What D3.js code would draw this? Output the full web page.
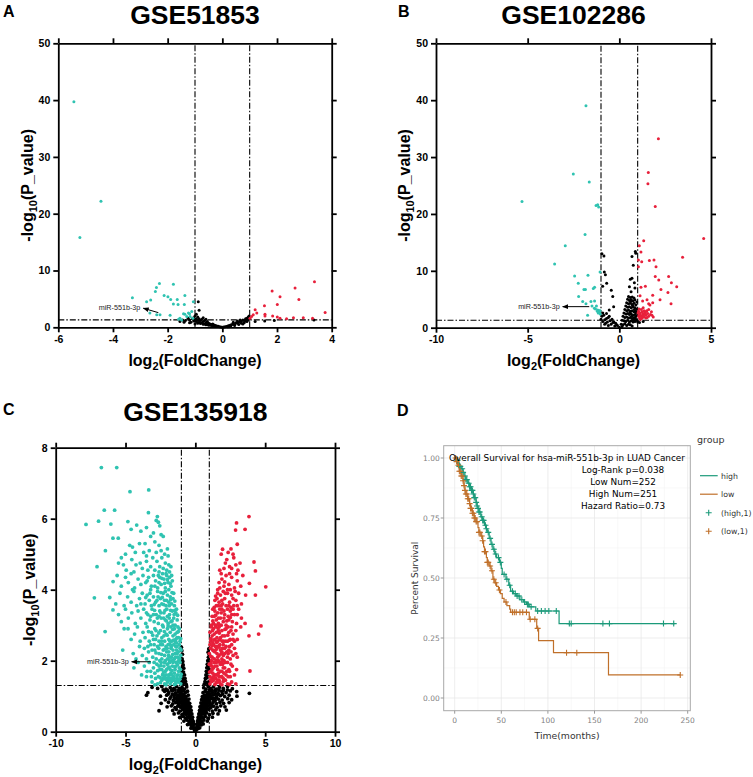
<!DOCTYPE html>
<html><head><meta charset="utf-8">
<script src="https://cdn.jsdelivr.net/npm/d3@7"></script>
<style>body{margin:0;background:#fff}</style>
</head><body>
<svg id="fig" width="753" height="777"></svg>
<script>
// ---------------- DATA ----------------
const titles = ["GSE51853", "GSE102286", "GSE135918"];
const panelLetters = ["A", "B", "C", "D"];
const xTicksA = [-6, -4, -2, 0, 2, 4];
const xTicksB = [-10, -5, 0, 5];
const xTicksC = [-10, -5, 0, 5, 10];
const yTicksAB = [0, 10, 20, 30, 40, 50];
const yTicksC = [0, 2, 4, 6, 8];
const fcCut = 1, pCut = 1.3;
const mirLabel = "miR-551b-3p";

// Panel A (GSE51853): [log2FC, -log10 p]
const aDown = [[-5.43,39.7],[-4.44,22.2],[-5.21,15.8],[-3.29,5.2],[-2.77,4.5],[-2.62,4.8],[-2.45,6.3],[-2.41,7.0],[-2.3,7.7],[-2.65,2.5],[-2.4,2.2],[-2.28,2.2],[-2.13,5.6],[-1.99,5.4],[-1.89,4.9],[-1.79,7.6],[-1.79,4.1],[-1.65,4.9],[-1.62,4.0],[-1.91,2.1],[-1.37,5.6],[-1.39,4.0],[-1.55,1.6],[-1.49,1.3],[-1.37,2.3],[-1.24,2.5],[-1.12,2.8],[-1.06,4.5],[-1.18,1.9],[-1.3,1.9],[-1.42,2.4],[-1.08,1.6],[-1.2,2.4],[-1.6,1.4]];
const aUp = [[3.37,8.0],[2.66,6.9],[1.82,6.4],[2.11,5.4],[2.8,4.9],[2.01,4.0],[1.54,3.8],[1.2,3.1],[1.26,2.5],[1.13,2.2],[1.56,2.3],[1.56,2.0],[1.84,2.0],[2.01,1.8],[2.11,1.6],[2.35,1.5],[2.6,1.7],[2.96,1.7],[3.3,1.6],[3.76,2.6],[1.01,1.6],[1.07,1.9]];
const aNs = [[-0.88,4.5],[-0.85,3.0],[-1.55,1.0],[-1.35,1.2],[-1.2,1.3],[-1.1,1.5],[-1.0,2.0],[-0.95,2.3],[-0.9,1.8],[-0.85,1.5],[-0.8,1.2],[-0.75,1.4],[-0.7,1.0],[-0.65,1.2],[-0.6,0.8],[-0.55,1.0],[-0.5,0.7],[-0.45,0.6],[-0.4,0.5],[-0.35,0.6],[-0.3,0.4],[-0.25,0.3],[-0.2,0.25],[-0.15,0.2],[-0.1,0.1],[-0.05,0.05],[0,0.02],[0.05,0.05],[0.1,0.1],[0.15,0.15],[0.2,0.25],[0.25,0.3],[0.3,0.4],[0.35,0.5],[0.4,0.6],[0.45,0.5],[0.5,0.8],[0.55,0.7],[0.6,0.9],[0.65,1.0],[0.7,1.1],[0.75,1.3],[0.8,1.2],[0.85,1.5],[0.9,1.6],[0.95,1.8],[0.98,2.0],[-1.15,0.9],[-1.05,1.1],[-0.95,1.0],[-0.85,0.9],[-0.75,0.8],[-0.65,0.6],[-0.55,0.5],[-0.45,0.4],[-0.35,0.3],[-0.9,0.7],[-1.0,0.6],[-1.2,0.8],[-1.4,0.9],[0.45,0.3],[0.6,0.5],[0.7,0.7],[0.8,0.8],[0.9,1.0],[0.55,1.1],[0.65,1.3],[0.75,0.6],[0.85,1.1],[0.95,1.3],[0.4,0.9],[0.3,0.2],[0.2,0.1],[-0.2,0.15],[-0.3,0.2],[-0.4,0.3],[-0.5,0.35],[-0.6,0.45],[-0.7,0.55],[-0.8,0.65],[-0.95,1.5],[-1.0,1.3],[-0.9,1.25],[-1.05,1.7],[1.2,1.0],[1.55,1.1],[1.9,1.2],[3.35,1.3],[1.0,1.5],[-1.25,1.6],[-1.45,1.3],[-0.7,1.7],[-0.6,1.4]];
const aArrow = [[-2.34,2.58],[-2.89,3.35]];

// Panel B (GSE102286)
const bDown = [[-1.82,39.0],[-2.51,27.0],[-1.64,25.6],[-5.31,22.2],[-1.27,21.5],[-1.18,21.6],[-1.13,21.2],[-1.87,16.4],[-2.95,14.4],[-3.53,11.2],[-2.44,9.1],[-1.71,9.2],[-1.05,9.8],[-2.24,7.8],[-1.93,6.7],[-1.85,6.7],[-1.42,6.9],[-1.35,7.1],[-2.22,5.5],[-2.0,4.6],[-1.82,4.2],[-1.55,4.6],[-1.35,4.7],[-1.49,3.8],[-1.36,3.4],[-1.18,3.1],[-1.09,3.0],[-1.73,2.2],[-1.1,2.7],[-1.2,2.9],[-1.3,3.3],[-1.05,3.0],[-1.15,2.6],[-1.25,3.8],[-1.04,2.4]];
const bUp = [[2.13,33.2],[1.58,27.3],[1.56,25.3],[1.96,21.3],[4.6,15.7],[1.33,15.3],[1.09,14.4],[1.18,13.3],[3.45,12.4],[1.04,11.9],[1.22,11.6],[1.64,11.8],[1.89,11.9],[2.0,10.7],[1.04,10.7],[2.69,9.0],[1.96,9.0],[2.15,8.4],[2.84,7.9],[1.42,7.3],[3.13,7.2],[2.27,6.7],[1.18,7.1],[1.13,5.6],[2.65,6.2],[1.82,5.7],[1.51,4.9],[1.27,4.7],[2.22,4.9],[1.6,4.2],[1.67,4.0],[2.82,4.2],[1.82,4.4],[1.78,2.2],[1.05,2.0],[1.1,2.3],[1.15,2.6],[1.2,2.1],[1.25,2.8],[1.3,2.4],[1.35,1.9],[1.4,2.7],[1.45,2.2],[1.5,3.0],[1.55,2.5],[1.6,2.0],[1.05,2.9],[1.1,1.7],[1.2,3.2],[1.3,3.5],[1.15,1.5],[1.25,1.8],[1.35,3.0],[1.45,1.7],[1.02,2.6],[1.08,3.3],[1.18,2.0],[1.28,2.2],[1.38,2.5],[1.48,2.9],[1.6,3.2],[1.7,2.3],[1.75,2.8],[1.85,1.9],[1.12,2.4],[1.22,1.6],[1.32,2.0],[1.42,2.4],[1.52,1.8]];
const bNs = [[-0.95,13.0],[-0.84,12.6],[-0.82,9.8],[-0.76,9.3],[-0.91,7.3],[-0.69,7.8],[-0.44,6.6],[-0.36,5.5],[-0.31,3.7],[-0.55,3.1],[-0.7,2.5],[-0.85,2.2],[-0.95,2.0],[-0.6,1.8],[-0.4,1.5],[-0.3,1.0],[-0.2,0.8],[-0.1,0.4],[0,0.1],[-0.5,1.2],[-0.65,1.0],[-0.8,1.4],[-0.9,1.1],[-0.75,0.8],[-0.45,0.6],[-0.25,0.3],[-0.15,0.5],[-0.35,0.9],[-1.0,1.5],[-0.7,1.6],[-0.55,2.0],[-0.9,2.6],[-0.6,0.4],[-0.8,0.6],[0.87,13.4],[0.9,13.1],[0.69,12.5],[0.76,11.0],[0.69,8.7],[0.6,8.5],[0.82,7.9],[0.55,7.2],[0.85,7.0],[0.64,6.3],[0.5,5.5],[0.6,5.3],[0.7,5.4],[0.8,5.2],[0.45,5.0],[0.55,4.8],[0.65,4.9],[0.75,4.7],[0.85,4.9],[0.95,4.5],[0.4,4.4],[0.5,4.2],[0.6,4.3],[0.7,4.1],[0.8,4.3],[0.9,4.0],[0.35,3.8],[0.45,3.6],[0.55,3.7],[0.65,3.5],[0.75,3.7],[0.85,3.5],[0.95,3.3],[0.3,3.2],[0.4,3.0],[0.5,3.1],[0.6,2.9],[0.7,3.0],[0.8,2.8],[0.9,2.9],[0.25,2.6],[0.35,2.4],[0.45,2.5],[0.55,2.3],[0.65,2.4],[0.75,2.2],[0.85,2.3],[0.95,2.1],[0.2,2.0],[0.3,1.8],[0.4,1.9],[0.5,1.7],[0.6,1.8],[0.7,1.6],[0.8,1.7],[0.9,1.5],[0.15,1.3],[0.25,1.2],[0.35,1.1],[0.45,1.3],[0.55,1.0],[0.65,1.2],[0.75,1.0],[0.85,1.1],[0.1,0.6],[0.2,0.5],[0.3,0.7],[0.4,0.4],[0.5,0.6],[0.6,0.5],[1.0,1.0],[1.1,0.9],[1.3,1.1],[0.98,1.25],[0.7,0.3],[0.15,0.2],[0.62,4.6],[0.72,3.9],[0.82,3.2],[0.92,2.6],[0.58,2.7],[0.68,2.0],[0.78,1.4],[0.88,1.9]];
const bArrow = [[-1.64,3.7],[-3.09,3.7]];

// Panel C (GSE135918)
const cDown = [[-6.73,7.44],[-5.63,7.44],[-4.68,6.76],[-3.34,6.81],[-6.52,6.24],[-5.78,6.24],[-3.36,6.17],[-2.72,6.06],[-2.8,5.95],
[-7.83,5.84],[-6.93,5.93],[-6.05,5.85],[-4.83,5.92],[-4.2,5.82],[-3.5,5.75],[-2.65,5.9],[-2.55,5.8],[-3.0,5.6],[-3.9,5.65],[-2.45,5.55],[-3.2,5.5],[-5.52,5.45],[-4.6,5.7],[-2.3,5.5],
[-6.44,5.1],[-5.9,5.45],[-4.7,5.25],[-4.5,5.2],[-4.0,5.3],[-3.6,5.3],[-3.7,5.05],[-3.3,5.1],[-2.9,5.35],[-2.6,5.25],[-2.45,5.1],[-2.2,5.0],[-2.0,5.15],[-1.95,4.95],[-2.8,5.05],[-3.5,4.95],[-4.3,5.05],[-5.0,5.0],[-5.3,4.9],
[-7.04,4.65],[-5.5,4.75],[-5.15,4.7],[-4.95,4.55],[-4.55,4.85],[-4.25,4.7],[-3.95,4.75],[-3.8,4.6],[-3.5,4.8],[-3.2,4.65],[-3.05,4.9],[-2.9,4.55],[-2.75,4.8],[-2.55,4.65],[-2.4,4.9],[-2.3,4.6],[-2.15,4.75],[-2.05,4.55],[-1.9,4.7],[-1.75,4.65],[-1.85,4.5],[-2.6,4.5],[-3.4,4.55],[-4.4,4.5],
[-5.89,4.23],[-5.6,4.4],[-5.3,4.1],[-5.0,4.35],[-4.8,4.2],[-4.6,4.45],[-4.35,4.05],[-4.1,4.3],[-3.9,4.15],[-3.75,4.4],[-3.55,4.2],[-3.35,4.35],[-3.15,4.1],[-3.0,4.4],[-2.85,4.25],[-2.7,4.05],[-2.55,4.35],[-2.45,4.15],[-2.35,4.45],[-2.25,4.3],[-2.15,4.05],[-2.05,4.4],[-1.95,4.2],[-1.85,4.35],[-1.75,4.1],[-1.65,4.25],[-1.9,4.0],[-2.6,4.2],[-3.2,4.0],[-4.5,4.0],
[-7.23,3.77],[-6.13,3.78],[-5.7,3.6],[-5.4,3.9],[-5.1,3.55],[-4.85,3.8],[-4.6,3.65],[-4.4,3.95],[-4.2,3.55],[-4.0,3.75],[-3.8,3.9],[-3.6,3.6],[-3.45,3.85],[-3.3,3.7],[-3.15,3.55],[-3.0,3.8],[-2.85,3.65],[-2.7,3.95],[-2.6,3.55],[-2.5,3.75],[-2.4,3.6],[-2.3,3.9],[-2.2,3.7],[-2.1,3.55],[-2.0,3.85],[-1.9,3.65],[-1.8,3.8],[-1.7,3.6],[-1.6,3.75],[-1.5,3.55],[-1.55,3.9],[-2.15,3.95],[-2.75,3.7],[-3.9,3.6],
[-5.9,3.43],[-5.5,3.3],[-5.3,3.1],[-5.0,3.45],[-4.8,3.2],[-4.55,3.35],[-4.3,3.05],[-4.1,3.4],[-3.9,3.2],[-3.7,3.45],[-3.55,3.05],[-3.4,3.3],[-3.25,3.15],[-3.1,3.45],[-2.95,3.1],[-2.8,3.3],[-2.65,3.05],[-2.55,3.4],[-2.45,3.2],[-2.35,3.0],[-2.25,3.35],[-2.15,3.15],[-2.05,3.45],[-1.95,3.05],[-1.85,3.3],[-1.75,3.1],[-1.65,3.4],[-1.55,3.2],[-1.45,3.0],[-1.4,3.35],[-1.3,3.15],[-1.35,3.45],[-1.6,3.0],[-2.0,3.25],[-2.6,3.25],[-3.0,3.3],
[-6.46,2.82],[-5.1,2.9],[-4.82,2.9],[-4.6,2.6],[-4.35,2.75],[-4.15,2.95],[-3.95,2.55],[-3.75,2.8],[-3.6,2.65],[-3.45,2.95],[-3.3,2.55],[-3.15,2.8],[-3.0,2.6],[-2.9,2.9],[-2.75,2.7],[-2.6,2.55],[-2.5,2.85],[-2.4,2.65],[-2.3,2.95],[-2.2,2.55],[-2.1,2.75],[-2.0,2.9],[-1.9,2.6],[-1.8,2.8],[-1.7,2.55],[-1.6,2.7],[-1.5,2.9],[-1.4,2.6],[-1.3,2.8],[-1.2,2.65],[-1.1,2.55],[-1.15,2.9],[-1.25,2.95],[-1.35,2.5],[-1.45,2.75],[-1.75,2.95],[-2.25,2.7],[-2.85,2.6],
[-5.2,2.3],[-4.45,2.2],[-4.25,2.05],[-4.0,2.4],[-3.8,2.15],[-3.65,2.35],[-3.5,2.05],[-3.35,2.25],[-3.2,2.45],[-3.05,2.1],[-2.9,2.3],[-2.8,2.05],[-2.7,2.4],[-2.6,2.2],[-2.5,2.45],[-2.4,2.05],[-2.3,2.3],[-2.2,2.15],[-2.1,2.4],[-2.0,2.05],[-1.9,2.25],[-1.8,2.45],[-1.7,2.1],[-1.6,2.3],[-1.5,2.05],[-1.4,2.4],[-1.3,2.2],[-1.2,2.0],[-1.1,2.35],[-1.05,2.15],[-1.15,2.45],[-1.25,2.1],[-1.35,2.3],[-1.45,2.2],[-1.55,2.45],[-1.65,2.0],[-1.75,2.35],[-1.85,2.0],[-1.95,2.45],[-2.05,2.25],[-2.15,2.0],[-2.35,2.45],[-2.55,2.0],[-2.95,2.45],[-3.4,2.4],
[-4.4,1.8],[-4.1,1.95],[-3.85,1.6],[-3.65,1.85],[-3.45,1.7],[-3.3,1.95],[-3.15,1.55],[-3.0,1.8],[-2.9,1.65],[-2.75,1.9],[-2.65,1.55],[-2.55,1.75],[-2.45,1.95],[-2.35,1.6],[-2.25,1.85],[-2.15,1.7],[-2.05,1.5],[-1.95,1.8],[-1.85,1.95],[-1.75,1.65],[-1.65,1.85],[-1.55,1.55],[-1.45,1.75],[-1.35,1.95],[-1.25,1.6],[-1.15,1.8],[-1.05,1.55],[-1.1,1.95],[-1.2,1.7],[-1.3,1.5],[-1.4,1.85],[-1.5,1.65],[-1.6,1.95],[-1.7,1.5],[-1.8,1.75],[-1.9,1.6],[-2.0,1.9],[-2.1,1.6],[-2.2,1.95],[-2.3,1.5],[-2.4,1.75],[-2.6,1.85],[-2.85,1.5],[-3.5,1.55],
[-3.1,1.4],[-2.7,1.35],[-2.4,1.45],[-2.2,1.35],[-2.0,1.4],[-1.8,1.35],[-1.6,1.45],[-1.4,1.35],[-1.2,1.4],[-1.05,1.35],[-1.3,1.45],[-1.5,1.33],[-1.7,1.42],[-1.9,1.45],[-2.1,1.32],[-2.5,1.38],[-2.9,1.32],
[-1.12,1.48],[-1.32,1.58],[-1.52,1.5],[-1.72,1.6],[-1.92,1.52],[-2.12,1.48],[-2.32,1.62],[-2.52,1.52],[-1.02,1.62],[-1.42,1.42],[-1.82,1.48],[-2.22,1.55],
[-1.07,1.75],[-1.27,1.88],[-1.47,1.82],[-1.67,1.72],[-1.87,1.82],[-2.07,1.75],[-2.27,1.68],[-2.47,1.86],[-1.17,1.98],[-1.57,1.98],[-2.7,1.72],[-2.95,1.95],[-3.2,1.7],
[-1.02,2.3],[-1.22,2.25],[-1.42,2.1],[-1.62,2.18],[-1.82,2.1],[-2.02,2.35],[-2.22,2.32],[-2.42,2.18],[-2.62,2.35],[-2.82,2.22],[-3.1,2.3],[-1.12,2.05],[-1.32,2.4],[-1.72,2.4],[-1.92,2.15],
[-1.05,2.62],[-1.22,2.82],[-1.42,2.52],[-1.62,2.88],[-1.82,2.55],[-2.02,2.72],[-2.22,2.82],[-2.42,2.55],[-2.62,2.78],[-2.82,2.85],[-3.05,2.72],[-3.35,2.82],[-1.32,2.65],[-1.55,2.58],[-1.95,2.98],
[-1.27,3.28],[-1.47,3.42],[-1.67,3.12],[-1.87,3.2],[-2.07,3.12],[-2.27,3.2],[-2.47,3.35],[-2.72,3.2],[-2.92,3.42],[-3.2,3.25],[-1.52,3.3],[-1.77,3.42],[-2.17,3.42],[-3.5,3.35],
[-1.47,3.68],[-1.67,3.92],[-1.87,3.55],[-2.07,3.7],[-2.27,3.58],[-2.47,3.92],[-2.67,3.8],[-2.95,3.58],[-3.25,3.9],[-1.77,3.72],[-2.37,3.78],[-3.55,3.78],
[-1.7,4.4],[-1.8,4.18],[-2.0,4.28],[-2.2,4.18],[-2.4,4.32],[-2.65,4.4],[-2.9,4.1],[-3.45,4.25],[-2.1,4.45]];
const cUp = [[3.84,6.06],[2.95,5.88],[2.88,5.68],[3.56,5.7],
[3.0,5.28],[1.95,5.14],[1.85,5.0],[2.35,5.05],[2.7,5.0],[2.55,5.15],
[4.2,4.78],[4.3,4.53],[3.2,4.75],[2.75,4.9],[2.45,4.65],[2.25,4.85],[2.6,4.6],[2.9,4.7],[2.05,4.6],[1.75,4.55],[2.15,4.75],[3.05,4.55],
[3.87,4.18],[5.04,4.08],[3.4,4.4],[3.0,4.25],[2.8,4.05],[2.6,4.35],[2.4,4.15],[2.2,4.4],[2.05,4.1],[1.9,4.3],[1.7,4.2],[1.6,4.0],[2.5,4.0],[2.95,4.45],[3.25,4.1],[1.85,4.45],[2.3,4.0],
[4.3,3.85],[3.6,3.85],[3.3,3.6],[3.1,3.9],[2.9,3.7],[2.75,3.55],[2.6,3.85],[2.45,3.65],[2.3,3.9],[2.2,3.55],[2.1,3.75],[1.95,3.6],[1.8,3.85],[1.7,3.65],[1.6,3.9],[1.5,3.55],[1.4,3.7],[1.35,3.5],[2.0,3.95],[2.55,3.5],[3.0,3.55],[2.85,3.95],[1.55,3.75],[1.85,3.55],
[3.56,3.05],[4.7,2.98],[3.3,3.2],[3.1,3.45],[2.95,3.05],[2.8,3.3],[2.65,3.1],[2.5,3.4],[2.4,3.15],[2.3,3.45],[2.2,3.0],[2.1,3.3],[2.0,3.1],[1.9,3.45],[1.8,3.2],[1.7,3.0],[1.6,3.35],[1.5,3.15],[1.4,3.4],[1.3,3.05],[1.2,3.25],[1.15,3.0],[1.25,3.45],[1.45,3.0],[1.65,3.2],[1.85,3.0],[2.05,3.4],[2.35,3.25],[2.7,3.45],[3.0,3.3],
[3.84,2.7],[4.53,2.75],[3.0,2.6],[2.9,2.85],[2.8,2.55],[2.7,2.75],[2.6,2.95],[2.5,2.6],[2.4,2.8],[2.3,2.55],[2.2,2.9],[2.1,2.7],[2.0,2.55],[1.9,2.85],[1.8,2.65],[1.7,2.95],[1.6,2.55],[1.5,2.8],[1.4,2.6],[1.3,2.9],[1.2,2.7],[1.1,2.55],[1.05,2.8],[1.15,2.95],[1.25,2.5],[1.35,2.75],[1.45,2.95],[1.55,2.65],[1.65,2.85],[1.75,2.6],[1.95,2.7],[2.15,2.55],[2.35,2.95],[2.55,2.85],[3.25,2.95],
[3.0,2.1],[2.8,2.35],[2.7,2.15],[2.6,2.45],[2.5,2.05],[2.4,2.3],[2.3,2.1],[2.2,2.4],[2.1,2.2],[2.0,2.45],[1.9,2.05],[1.8,2.3],[1.7,2.15],[1.6,2.4],[1.5,2.0],[1.4,2.25],[1.3,2.45],[1.2,2.1],[1.1,2.35],[1.0,2.2],[1.05,2.45],[1.15,2.0],[1.25,2.3],[1.35,2.05],[1.45,2.4],[1.55,2.2],[1.65,2.0],[1.75,2.45],[1.85,2.2],[1.95,2.35],[2.05,2.0],[2.25,2.25],[2.45,2.4],[2.9,2.2],
[3.91,1.71],[2.8,1.6],[2.65,1.85],[2.5,1.55],[2.4,1.75],[2.3,1.95],[2.2,1.6],[2.1,1.8],[2.0,1.5],[1.9,1.7],[1.8,1.9],[1.7,1.55],[1.6,1.75],[1.5,1.95],[1.4,1.6],[1.3,1.8],[1.2,1.5],[1.1,1.7],[1.0,1.9],[1.05,1.55],[1.15,1.85],[1.25,1.65],[1.35,1.95],[1.45,1.5],[1.55,1.85],[1.65,1.65],[1.75,1.95],[1.85,1.55],[1.95,1.9],[2.05,1.65],[2.15,1.95],[2.35,1.55],[2.55,1.9],[2.95,1.75],
[2.9,1.35],[2.6,1.4],[2.3,1.35],[2.0,1.42],[1.8,1.35],[1.6,1.45],[1.4,1.33],[1.2,1.42],[1.05,1.35],[1.3,1.45],[1.5,1.38],[1.7,1.45],[1.9,1.32],[2.15,1.45],[2.45,1.33],
[1.1,1.45],[1.3,1.55],[1.5,1.6],[1.7,1.4],[1.9,1.55],[2.1,1.45],[1.02,1.68],[1.2,1.75],[1.4,1.85],[1.6,1.6],[1.8,1.7],[2.0,1.8],[2.25,1.7],[1.12,1.92],[1.52,1.98],[1.92,1.98],[2.45,1.7],
[1.1,2.12],[1.3,2.28],[1.5,2.32],[1.7,2.38],[1.9,2.25],[2.1,2.35],[2.35,2.2],[1.2,2.42],[1.6,2.1],[2.0,2.15],[2.55,2.25],
[1.12,2.62],[1.32,2.58],[1.52,2.52],[1.72,2.78],[1.92,2.55],[2.12,2.88],[2.32,2.72],[1.22,2.85],[1.62,2.92],[2.45,2.58],[2.7,2.6],
[1.25,3.12],[1.45,3.28],[1.65,3.05],[1.85,3.35],[2.05,3.2],[2.25,3.12],[2.5,3.22],[1.35,3.25],[1.75,3.45],[2.6,3.3],
[1.45,3.82],[1.65,3.55],[1.9,3.7],[2.15,3.9],[2.4,3.55],[2.7,3.75],[1.75,4.05],[2.1,4.22],[2.45,4.45]];
const cNs = [[-1.0,2.38],[-0.97,2.28],[-0.93,2.18],[-0.95,2.05],[-0.9,1.98],[-0.87,1.88],[-0.83,1.79],[-0.85,1.68],[-0.78,1.6],[-0.74,1.5],[-0.71,1.42],[-0.66,1.34],[-0.97,1.95],[-0.92,1.82],[-0.88,1.62],[-0.82,1.47],[-0.99,1.72],[-0.94,1.52],[-0.98,1.41],[-0.9,1.36],[-0.96,1.6],[-0.8,1.38],
[0.96,2.33],[0.92,2.24],[0.94,2.1],[0.89,2.0],[0.86,1.9],[0.82,1.8],[0.79,1.7],[0.76,1.6],[0.72,1.5],[0.69,1.41],[0.64,1.34],[0.97,2.0],[0.91,1.84],[0.86,1.66],[0.81,1.52],[0.98,1.76],[0.94,1.55],[0.98,1.42],[0.89,1.36],[0.99,2.18],[0.95,1.68],[0.78,1.38],
[-3.1,1.25],[-2.7,1.22],[-2.4,1.27],[-2.1,1.2],[-1.8,1.24],[-1.55,1.21],[-1.35,1.27],[-1.15,1.22],[-0.95,1.25],[-0.78,1.2],[-0.62,1.26],[0.6,1.24],[0.76,1.2],[0.92,1.27],[1.1,1.22],[1.3,1.26],[1.5,1.2],[1.72,1.25],[2.0,1.22],[2.3,1.27],[2.65,1.21],
[-3.4,1.1],[-2.2,1.14],[-1.9,1.1],[-1.65,1.15],[-1.42,1.09],[-1.22,1.13],[-1.02,1.1],[-0.86,1.15],[-0.7,1.11],[-0.56,1.14],[0.55,1.1],[0.7,1.14],[0.85,1.1],[1.02,1.15],[1.2,1.11],[1.42,1.14],[1.62,1.09],[1.9,1.13],[2.2,1.1],[2.96,1.13],[2.5,1.15],
[-3.5,1.03],[-2.5,1.0],[-2.05,1.03],[-1.75,0.98],[-1.52,1.02],[-1.3,0.99],[-1.12,1.04],[-0.96,0.98],[-0.8,1.02],[-0.66,0.99],[-0.51,1.03],[0.5,0.99],[0.65,1.03],[0.8,0.98],[0.96,1.02],[1.12,0.99],[1.32,1.04],[1.52,0.98],[1.8,1.02],[2.1,0.99],[2.42,1.03],[2.98,1.0],[3.87,1.08],
[-2.15,0.9],[-1.82,0.93],[-1.57,0.88],[-1.36,0.92],[-1.16,0.89],[-1.0,0.93],[-0.86,0.88],[-0.71,0.92],[-0.57,0.89],[-0.46,0.92],[0.45,0.9],[0.56,0.93],[0.71,0.88],[0.86,0.92],[1.01,0.89],[1.21,0.93],[1.42,0.88],[1.66,0.92],[1.92,0.89],[2.32,0.93],[2.6,0.9],
[-2.45,0.8],[-1.92,0.83],[-1.62,0.78],[-1.41,0.82],[-1.21,0.79],[-1.06,0.83],[-0.91,0.78],[-0.76,0.82],[-0.61,0.79],[-0.5,0.82],[-0.41,0.8],[0.4,0.81],[0.5,0.78],[0.61,0.82],[0.76,0.79],[0.91,0.83],[1.06,0.78],[1.26,0.82],[1.51,0.79],[1.76,0.83],[2.02,0.8],[2.42,0.82],
[-2.02,0.7],[-1.72,0.73],[-1.46,0.68],[-1.26,0.72],[-1.06,0.69],[-0.91,0.73],[-0.76,0.68],[-0.61,0.72],[-0.5,0.69],[-0.41,0.72],[-0.33,0.7],[0.33,0.7],[0.42,0.73],[0.5,0.68],[0.61,0.72],[0.76,0.69],[0.91,0.73],[1.11,0.68],[1.31,0.72],[1.56,0.69],[1.82,0.73],[2.12,0.7],
[-2.6,0.59],[-1.62,0.6],[-1.36,0.63],[-1.11,0.58],[-0.91,0.62],[-0.76,0.59],[-0.61,0.63],[-0.48,0.58],[-0.38,0.62],[-0.3,0.6],[0.3,0.6],[0.38,0.63],[0.48,0.58],[0.61,0.62],[0.76,0.59],[0.96,0.63],[1.21,0.58],[1.46,0.62],[1.72,0.59],[2.22,0.61],
[-1.52,0.5],[-1.21,0.53],[-0.96,0.48],[-0.81,0.52],[-0.66,0.49],[-0.52,0.53],[-0.42,0.48],[-0.33,0.52],[-0.25,0.5],[0.25,0.5],[0.33,0.53],[0.42,0.48],[0.52,0.52],[0.66,0.49],[0.81,0.53],[1.01,0.48],[1.26,0.52],[1.62,0.5],
[-1.12,0.4],[-0.86,0.43],[-0.7,0.38],[-0.56,0.42],[-0.45,0.39],[-0.35,0.43],[-0.27,0.38],[-0.2,0.41],[0.2,0.4],[0.27,0.43],[0.35,0.38],[0.45,0.42],[0.56,0.39],[0.71,0.43],[0.91,0.38],[1.22,0.41],
[-0.82,0.3],[-0.61,0.33],[-0.46,0.28],[-0.35,0.32],[-0.27,0.29],[-0.2,0.32],[-0.15,0.28],[0.15,0.3],[0.2,0.33],[0.27,0.28],[0.35,0.32],[0.46,0.29],[0.61,0.33],[0.86,0.3],
[-0.56,0.2],[-0.41,0.23],[-0.3,0.18],[-0.22,0.22],[-0.15,0.19],[-0.1,0.22],[0.1,0.2],[0.15,0.23],[0.22,0.18],[0.3,0.22],[0.41,0.19],[0.56,0.22],
[-0.31,0.1],[-0.2,0.12],[-0.12,0.09],[-0.06,0.11],[0.06,0.1],[0.12,0.12],[0.2,0.09],[0.31,0.11],[-0.05,0.03],[0,0.02],[0.05,0.04],
[-1.0,1.18],[-1.2,1.16],[-1.45,1.18],[-1.7,1.17],[-2.0,1.16],[-2.3,1.18],[-0.85,1.05],[-1.05,1.06],[-1.25,1.04],[-1.45,1.06],[-1.65,1.05],[-1.95,1.06],[-0.7,0.95],[-0.9,0.95],[-1.1,0.96],[-1.3,0.94],[-1.5,0.95],[-0.6,0.85],[-0.8,0.86],[-1.0,0.84],[-1.3,0.86],[-0.55,0.75],[-0.7,0.76],[-0.85,0.74],[-1.15,0.75],[-0.45,0.65],[-0.55,0.66],[-0.7,0.64],[-0.85,0.66],[-0.4,0.55],[-0.55,0.56],[-0.7,0.56],
[1.0,1.18],[1.2,1.16],[1.45,1.18],[1.7,1.17],[2.0,1.16],[2.3,1.18],[0.85,1.05],[1.05,1.06],[1.25,1.04],[1.45,1.06],[1.65,1.05],[1.95,1.06],[0.7,0.95],[0.9,0.95],[1.1,0.96],[1.3,0.94],[1.5,0.95],[0.6,0.85],[0.8,0.86],[1.0,0.84],[1.3,0.86],[0.55,0.75],[0.7,0.76],[0.85,0.74],[1.15,0.75],[0.45,0.65],[0.55,0.66],[0.7,0.64],[0.85,0.66],[0.4,0.55],[0.55,0.56],[0.7,0.56]];
const cArrow = [[-3.2,1.97],[-4.56,1.97]];

// Panel D: Kaplan-Meier (time in months, survival)
const kmTitle = "Overall Survival for hsa-miR-551b-3p in LUAD Cancer";
const kmStats = ["Log-Rank p=0.038", "Low Num=252", "High Num=251", "Hazard Ratio=0.73"];
const kmGroups = ["high", "low"];
const kmCensorLabels = ["(high,1)", "(low,1)"];
const xTicksD = [0, 50, 100, 150, 200, 250];
const yTicksD = [0, 0.25, 0.5, 0.75, 1];
const highSteps = [[0,1],[2,0.99],[4,0.98],[5,0.965],[7,0.955],[9,0.94],[10,0.925],[12,0.91],[14,0.895],[16,0.88],[18,0.865],[20,0.85],[21,0.835],[23,0.815],[24,0.8],[25,0.79],[26,0.775],[28,0.755],[30,0.74],[32,0.72],[34,0.705],[35,0.69],[37,0.665],[39,0.64],[41,0.62],[43,0.6],[45,0.585],[48,0.565],[50,0.54],[51,0.515],[55,0.495],[58,0.47],[60,0.445],[63,0.435],[66,0.425],[70,0.41],[74,0.4],[77,0.39],[80,0.38],[87,0.3625],[112,0.31],[236,0.31]];
const lowSteps = [[0,1],[2,0.985],[3,0.97],[5,0.945],[7,0.925],[9,0.905],[10,0.885],[11,0.865],[12,0.85],[14,0.83],[16,0.81],[17,0.79],[19,0.77],[21,0.75],[23,0.735],[25,0.71],[26,0.69],[28,0.675],[30,0.655],[31,0.63],[32,0.61],[34,0.585],[35,0.565],[37,0.55],[39,0.53],[41,0.495],[43,0.48],[45,0.465],[47,0.45],[49,0.435],[51,0.415],[53,0.4],[56,0.385],[59,0.37],[60,0.357],[80,0.328],[88,0.29],[90,0.239],[106,0.189],[165,0.096],[242,0.096]];
const highCensor = [3,5,6,8,9,11,12,13,15,16,17,18,19,20,21,22,23,24,25,26,27,29,30,31,33,34,36,38,40,42,44,47,49,53,56,59,62,65,67,69,72,75,78,79,82,89,93,97,101,109,123,125,159,166,224,235];
const lowCensor = [1,2,4,5,6,7,8,9,10,11,12,13,14,15,16,17,18,19,20,21,22,23,24,26,27,29,30,32,33,35,36,38,40,42,44,48,55,62,64,66,70,73,77,81,86,89,120,131,242];

// ---------------- DRAWING ----------------
const svg = d3.select("#fig");
svg.append("rect").attr("width", 753).attr("height", 777).attr("fill", "#fff");
const COL_DOWN = "#2fc3b1", COL_UP = "#e8203b", COL_NS = "#000";
const AXFONT = "'Liberation Sans', Arial, sans-serif";

function volcano(p) {
  const g = svg.append("g");
  const x = d3.scaleLinear().domain(p.xDomain).range([p.left, p.right]);
  const y = d3.scaleLinear().domain(p.yDomain).range([p.bottom, p.top]);
  const dash = "6,2,1.5,2";
  [-fcCut, fcCut].forEach(v => g.append("line")
    .attr("x1", x(v)).attr("x2", x(v)).attr("y1", y(p.yDomain[0])).attr("y2", y(p.yDomain[1]))
    .attr("stroke", "#000").attr("stroke-width", 1.1).attr("stroke-dasharray", dash));
  g.append("line").attr("x1", x(p.xDomain[0])).attr("x2", x(p.xDomain[1]))
    .attr("y1", y(pCut)).attr("y2", y(pCut))
    .attr("stroke", "#000").attr("stroke-width", 1.1).attr("stroke-dasharray", dash);
  [[p.ns, COL_NS], [p.down, COL_DOWN], [p.up, COL_UP]].forEach(([arr, c]) => {
    g.append("g").selectAll("circle").data(arr).join("circle")
      .attr("cx", d => x(d[0])).attr("cy", d => y(d[1])).attr("r", p.r).attr("fill", c);
  });
  const [t, h] = p.arrow;
  g.append("line").attr("x1", x(t[0])).attr("y1", y(t[1])).attr("x2", x(h[0])).attr("y2", y(h[1]))
    .attr("stroke", "#000").attr("stroke-width", 1).attr("marker-end", "url(#arrowhead)");
  g.append("text").attr("x", x(h[0]) - 3).attr("y", y(h[1]) + 2.2)
    .attr("text-anchor", "end").attr("font-family", AXFONT).attr("font-size", 7.2).attr("fill", "#222")
    .text(mirLabel);
  const fmt = d => String(d);
  const axes = [
    [d3.axisBottom(x).tickValues(p.xTicks).tickFormat(fmt), `translate(0,${p.bottom})`],
    [d3.axisTop(x).tickValues(p.xTicks).tickFormat(""), `translate(0,${p.top})`],
    [d3.axisLeft(y).tickValues(p.yTicks).tickFormat(fmt), `translate(${p.left},0)`],
    [d3.axisRight(y).tickValues(p.yTicks).tickFormat(""), `translate(${p.right},0)`]
  ];
  axes.forEach(([ax, tr]) => {
    const a = g.append("g").attr("transform", tr).call(ax.tickSizeInner(5).tickSizeOuter(0).tickPadding(3));
    a.select(".domain").attr("stroke", "#000").attr("stroke-width", 1.8);
    a.selectAll(".tick line").attr("stroke", "#000").attr("stroke-width", 1.8);
    a.selectAll(".tick text").attr("font-family", AXFONT).attr("font-weight", "bold")
      .attr("font-size", 10.5).attr("fill", "#000");
  });
  g.append("text").attr("x", (p.left + p.right) / 2).attr("y", p.titleY).attr("text-anchor", "middle")
    .attr("font-family", AXFONT).attr("font-weight", "bold").attr("font-size", 26.5).text(p.title);
  g.append("text").attr("x", p.letterX).attr("y", p.letterY).attr("font-family", AXFONT)
    .attr("font-weight", "bold").attr("font-size", 16).text(p.letter);
  const xt = g.append("text").attr("x", (p.left + p.right) / 2).attr("y", p.xTitleY).attr("text-anchor", "middle")
    .attr("font-family", AXFONT).attr("font-weight", "bold").attr("font-size", 16);
  xt.append("tspan").text("log");
  xt.append("tspan").attr("font-size", 11).attr("dy", 4).text("2");
  xt.append("tspan").attr("dy", -4).text("(FoldChange)");
  const yt = g.append("text").attr("transform", `translate(${p.yTitleX},${(p.top + p.bottom) / 2}) rotate(-90)`)
    .attr("text-anchor", "middle").attr("font-family", AXFONT).attr("font-weight", "bold").attr("font-size", 16);
  yt.append("tspan").text("-log");
  yt.append("tspan").attr("font-size", 11).attr("dy", 4).text("10");
  yt.append("tspan").attr("dy", -4).text("(P_value)");
}

svg.append("defs").append("marker").attr("id", "arrowhead").attr("viewBox", "0 0 10 10")
  .attr("refX", 9).attr("refY", 5).attr("markerWidth", 6).attr("markerHeight", 6).attr("orient", "auto")
  .attr("markerUnits", "userSpaceOnUse")
  .append("path").attr("d", "M0,1 L10,5 L0,9 Z").attr("fill", "#000");

volcano({ left: 58.3, right: 331.7, top: 43.3, bottom: 327.3, xDomain: [-6, 4], yDomain: [0, 50],
  xTicks: xTicksA, yTicks: yTicksAB, down: aDown, up: aUp, ns: aNs, arrow: aArrow, r: 1.5,
  title: titles[0], titleY: 24, letter: panelLetters[0], letterX: 3, letterY: 17, xTitleY: 366, yTitleX: 33 });
volcano({ left: 436, right: 711, top: 43.3, bottom: 327.7, xDomain: [-10, 5], yDomain: [0, 50],
  xTicks: xTicksB, yTicks: yTicksAB, down: bDown, up: bUp, ns: bNs, arrow: bArrow, r: 1.5,
  title: titles[1], titleY: 24, letter: panelLetters[1], letterX: 398, letterY: 17, xTitleY: 366, yTitleX: 410 });
volcano({ left: 55.7, right: 335, top: 447.7, bottom: 731.7, xDomain: [-10, 10], yDomain: [0, 8],
  xTicks: xTicksC, yTicks: yTicksC, down: cDown, up: cUp, ns: cNs, arrow: cArrow, r: 1.9,
  title: titles[2], titleY: 421, letter: panelLetters[2], letterX: 3, letterY: 415, xTitleY: 770, yTitleX: 35 });

// ---------- Panel D ----------
(function () {
  const DF = "'DejaVu Sans', Verdana, sans-serif";
  const g = svg.append("g");
  const x = d3.scaleLinear().domain([0, 250]).range([454.7, 687.7]);
  const y = d3.scaleLinear().domain([0, 1]).range([698, 458]);
  const L = 443.7, R = 690.3, T = 445.7, B = 710.7;
  [25, 75, 125, 175, 225].forEach(v => g.append("line").attr("x1", x(v)).attr("x2", x(v)).attr("y1", T).attr("y2", B)
    .attr("stroke", "#f3f3f3").attr("stroke-width", 0.6));
  [0.125, 0.375, 0.625, 0.875].forEach(v => g.append("line").attr("x1", L).attr("x2", R).attr("y1", y(v)).attr("y2", y(v))
    .attr("stroke", "#f3f3f3").attr("stroke-width", 0.6));
  xTicksD.forEach(v => g.append("line").attr("x1", x(v)).attr("x2", x(v)).attr("y1", T).attr("y2", B)
    .attr("stroke", "#e8e8e8").attr("stroke-width", 0.8));
  yTicksD.forEach(v => g.append("line").attr("x1", L).attr("x2", R).attr("y1", y(v)).attr("y2", y(v))
    .attr("stroke", "#e8e8e8").attr("stroke-width", 0.8));
  g.append("rect").attr("x", L).attr("y", T).attr("width", R - L).attr("height", B - T)
    .attr("fill", "none").attr("stroke", "#a8a8a8").attr("stroke-width", 1);
  xTicksD.forEach(v => {
    g.append("line").attr("x1", x(v)).attr("x2", x(v)).attr("y1", B).attr("y2", B + 3).attr("stroke", "#999");
    g.append("text").attr("x", x(v)).attr("y", B + 12).attr("text-anchor", "middle").attr("font-family", DF)
      .attr("font-size", 7.5).attr("fill", "#7f7f7f").text(String(v));
  });
  yTicksD.forEach(v => {
    g.append("line").attr("x1", L - 3).attr("x2", L).attr("y1", y(v)).attr("y2", y(v)).attr("stroke", "#999");
    g.append("text").attr("x", L - 4).attr("y", y(v) + 2.7).attr("text-anchor", "end").attr("font-family", DF)
      .attr("font-size", 7.5).attr("fill", "#7f7f7f").text(d3.format(".2f")(v));
  });
  g.append("text").attr("x", (L + R) / 2).attr("y", 739).attr("text-anchor", "middle").attr("font-family", DF)
    .attr("font-size", 9.3).attr("fill", "#333").text("Time(months)");
  g.append("text").attr("transform", `translate(418,${(T + B) / 2}) rotate(-90)`).attr("text-anchor", "middle")
    .attr("font-family", DF).attr("font-size", 9).attr("fill", "#333").text("Percent Survival");
  const cols = ["#1b9a7a", "#c0702a"];
  const stepsList = [highSteps, lowSteps];
  const censList = [highCensor, lowCensor];
  const line = d3.line().x(d => x(d[0])).y(d => y(d[1])).curve(d3.curveStepAfter);
  stepsList.forEach((st, i) => {
    g.append("path").attr("d", line(st)).attr("fill", "none").attr("stroke", cols[i]).attr("stroke-width", 1.2);
  });
  function survAt(st, t) { let s = st[0][1]; for (const p of st) { if (p[0] <= t) s = p[1]; } return s; }
  censList.forEach((cs, i) => {
    cs.forEach(t => {
      const cx = x(t), cy = y(survAt(stepsList[i], t));
      g.append("path").attr("d", `M${cx - 3},${cy}H${cx + 3}M${cx},${cy - 3}V${cy + 3}`)
        .attr("stroke", cols[i]).attr("stroke-width", 1.1);
    });
  });
  g.append("text").attr("x", 567).attr("y", 461).attr("text-anchor", "middle").attr("font-family", DF)
    .attr("font-size", 8.9).attr("fill", "#000").text(kmTitle);
  kmStats.forEach((s, i) => g.append("text").attr("x", 623).attr("y", 472.5 + i * 12).attr("text-anchor", "middle")
    .attr("font-family", DF).attr("font-size", 8.9).attr("fill", "#000").text(s));
  g.append("text").attr("x", 697).attr("y", 443).attr("font-family", DF).attr("font-size", 9.5).attr("fill", "#333").text("group");
  kmGroups.forEach((k, i) => {
    const yy = 475.7 + i * 18.5;
    g.append("line").attr("x1", 700).attr("x2", 717.7).attr("y1", yy).attr("y2", yy).attr("stroke", cols[i]).attr("stroke-width", 1.2);
    g.append("text").attr("x", 721).attr("y", yy + 2.8).attr("font-family", DF).attr("font-size", 7.8).attr("fill", "#333").text(k);
  });
  kmCensorLabels.forEach((k, i) => {
    const yy = 512.7 + i * 18.5, cx = 708.7;
    g.append("path").attr("d", `M${cx - 3},${yy}H${cx + 3}M${cx},${yy - 3}V${yy + 3}`).attr("stroke", cols[i]).attr("stroke-width", 1.1);
    g.append("text").attr("x", 721).attr("y", yy + 2.8).attr("font-family", DF).attr("font-size", 7.8).attr("fill", "#333").text(k);
  });
  g.append("text").attr("x", 397).attr("y", 416).attr("font-family", AXFONT).attr("font-weight", "bold")
    .attr("font-size", 16).text(panelLetters[3]);
})();
</script>
</body></html>
